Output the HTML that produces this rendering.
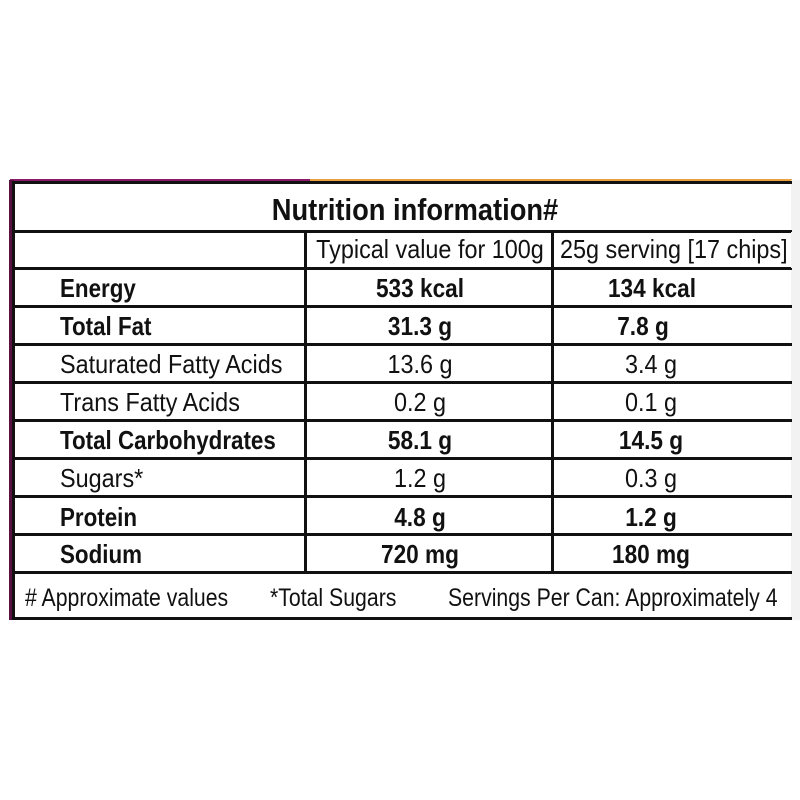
<!DOCTYPE html>
<html><head><style>
body{margin:0;width:800px;height:800px;background:#fff;position:relative;overflow:hidden;font-family:"Liberation Sans Narrow","Liberation Sans",sans-serif}
.h{position:absolute;left:12px;width:780px;height:3px;background:#111}
.v{position:absolute;width:3px;background:#111}
.t{position:absolute;white-space:nowrap;color:#111;transform-origin:left center;line-height:1;transform:scaleX(0.9);font-size:26px}
.c{position:absolute;white-space:nowrap;color:#111;line-height:1;transform:translateX(-50%) scaleX(0.9);font-size:26px}
.t.b{transform:scaleX(0.86)}
.c.b{transform:translateX(-50%) scaleX(0.87)}
.b{font-weight:bold}
.f{font-size:25px;transform:scaleX(0.85)}
</style></head><body>
<div style="position:absolute;left:10px;top:179px;width:300px;height:4px;background:#8a1a6a"></div>
<div style="position:absolute;left:310px;top:179px;width:482px;height:4px;background:#e8a040"></div>
<div style="position:absolute;left:9px;top:180px;width:5px;height:440px;background:#5a1040"></div>
<div style="position:absolute;left:791px;top:180px;width:9px;height:440px;background:#f2f2f2"></div>
<div class="h" style="top:181px"></div>
<div class="h" style="top:230px"></div>
<div class="h" style="top:267px"></div>
<div class="h" style="top:305px"></div>
<div class="h" style="top:343px"></div>
<div class="h" style="top:381px"></div>
<div class="h" style="top:419px"></div>
<div class="h" style="top:457px"></div>
<div class="h" style="top:495px"></div>
<div class="h" style="top:533px"></div>
<div class="h" style="top:571px"></div>
<div class="h" style="top:617px"></div>
<div class="v" style="left:12px;top:181px;height:439px"></div>
<div class="v" style="left:304px;top:230px;height:344px"></div>
<div class="v" style="left:551px;top:230px;height:344px"></div>
<div class="c b" style="left:415px;top:194px;font-size:31px;transform:translateX(-50%) scaleX(0.88)">Nutrition information#</div>
<div class="c" style="left:430px;top:236px">Typical value for 100g</div>
<div class="t" style="left:560px;top:236px">25g serving [17 chips]</div>
<div style="position:absolute;left:791px;top:232px;width:9px;height:36px;background:#f2f2f2"></div>

<div class="t b" style="left:60px;top:275px">Energy</div>
<div class="c b" style="left:420px;top:275px">533 kcal</div>
<div class="c b" style="left:652px;top:275px">134 kcal</div>

<div class="t b" style="left:60px;top:313px">Total Fat</div>
<div class="c b" style="left:420px;top:313px">31.3 g</div>
<div class="c b" style="left:643px;top:313px">7.8 g</div>

<div class="t" style="left:60px;top:351px">Saturated Fatty Acids</div>
<div class="c" style="left:420px;top:351px">13.6 g</div>
<div class="c" style="left:651px;top:351px">3.4 g</div>

<div class="t" style="left:60px;top:389px">Trans Fatty Acids</div>
<div class="c" style="left:420px;top:389px">0.2 g</div>
<div class="c" style="left:651px;top:389px">0.1 g</div>

<div class="t b" style="left:60px;top:427px">Total Carbohydrates</div>
<div class="c b" style="left:420px;top:427px">58.1 g</div>
<div class="c b" style="left:651px;top:427px">14.5 g</div>

<div class="t" style="left:60px;top:465px">Sugars*</div>
<div class="c" style="left:420px;top:465px">1.2 g</div>
<div class="c" style="left:651px;top:465px">0.3 g</div>

<div class="t b" style="left:60px;top:504px">Protein</div>
<div class="c b" style="left:420px;top:504px">4.8 g</div>
<div class="c b" style="left:651px;top:504px">1.2 g</div>

<div class="t b" style="left:60px;top:541px">Sodium</div>
<div class="c b" style="left:420px;top:541px">720 mg</div>
<div class="c b" style="left:651px;top:541px">180 mg</div>

<div class="t f" style="left:25px;top:586px"># Approximate values</div>
<div class="t f" style="left:270px;top:586px">*Total Sugars</div>
<div class="t f" style="left:448px;top:586px">Servings Per Can: Approximately 4</div>
</body></html>
